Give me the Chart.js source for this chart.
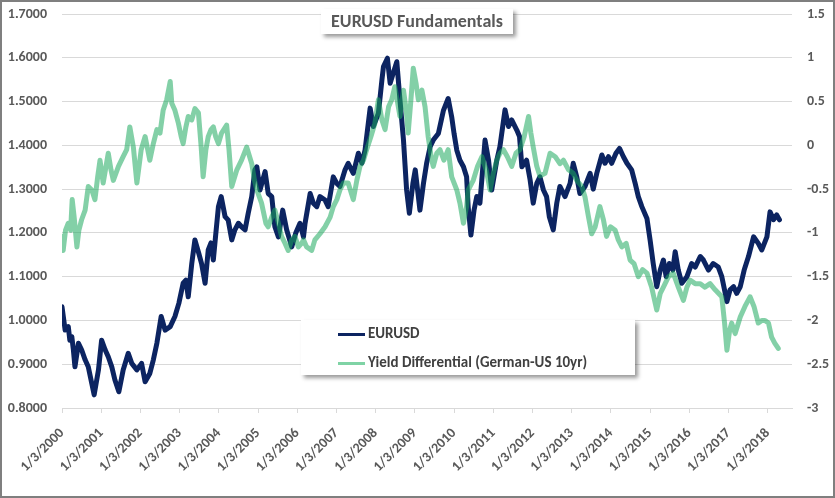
<!DOCTYPE html>
<html>
<head>
<meta charset="utf-8">
<script src="https://cdn.jsdelivr.net/npm/chart.js@4.4.1/dist/chart.umd.min.js"></script>
<style>
  body { margin: 0; background: #fff; }
  #wrap { position: relative; width: 835px; height: 498px; }
  #frame {
    position: absolute; left: 0; top: 0; width: 835px; height: 498px;
    box-sizing: border-box; border: 2px solid #7f7f7f; pointer-events: none;
  }
  .box {
    position: absolute; background: #fff;
    box-shadow: 3px 3px 4px rgba(0, 0, 0, 0.4);
    font-family: Carlito, Lato, "Open Sans", sans-serif; font-weight: bold;
  }
  #title {
    left: 321px; top: 9px; width: 192px; height: 25px;
    font-size: 18px; line-height: 25px; text-align: center; color: #595959;
  }
  #legend { left: 301px; top: 320px; width: 334px; height: 55px; font-size: 15px; color: #404040; }
  .item { position: absolute; left: 37px; height: 18px; line-height: 18px; white-space: nowrap; }
  .swatch { display: inline-block; width: 27px; height: 3px; vertical-align: middle; margin-right: 3px; }
</style>
</head>
<body>
<div id="wrap">
  <canvas id="grafico" width="835" height="498"></canvas>
  <div id="title" class="box">EURUSD Fundamentals</div>
  <div id="legend" class="box">
    <div class="item" style="top:4px"><span class="swatch" style="background:#0c2461"></span>EURUSD</div>
    <div class="item" style="top:33px"><span class="swatch" style="background:#7fd3a5"></span>Yield Differential (German-US 10yr)</div>
  </div>
  <div id="frame"></div>
</div>
<script>
// EURUSD, left axis (dates as decimal years)
const eurDates = [
  2000.00, 2000.08, 2000.16, 2000.20, 2000.25, 2000.29, 2000.33, 2000.42, 2000.50, 2000.59,
  2000.67, 2000.76, 2000.82, 2000.93, 2001.01, 2001.10, 2001.18, 2001.27, 2001.35, 2001.45,
  2001.56, 2001.69, 2001.78, 2001.91, 2002.03, 2002.12, 2002.24, 2002.33, 2002.42, 2002.53,
  2002.63, 2002.76, 2002.88, 2002.98, 2003.09, 2003.16, 2003.22, 2003.31, 2003.39, 2003.49,
  2003.56, 2003.65, 2003.73, 2003.80, 2003.86, 2003.92, 2003.99, 2004.06, 2004.16, 2004.24,
  2004.33, 2004.41, 2004.50, 2004.58, 2004.67, 2004.75, 2004.84, 2004.92, 2004.97, 2005.05,
  2005.18, 2005.26, 2005.35, 2005.43, 2005.52, 2005.63, 2005.73, 2005.86, 2005.96, 2006.07,
  2006.16, 2006.20, 2006.33, 2006.41, 2006.50, 2006.58, 2006.71, 2006.79, 2006.92, 2007.01,
  2007.09, 2007.22, 2007.30, 2007.43, 2007.56, 2007.65, 2007.73, 2007.86, 2007.94, 2008.07,
  2008.16, 2008.20, 2008.30, 2008.37, 2008.45, 2008.54, 2008.62, 2008.71, 2008.79, 2008.86,
  2008.95, 2009.01, 2009.07, 2009.13, 2009.22, 2009.30, 2009.39, 2009.47, 2009.60, 2009.73,
  2009.85, 2009.94, 2010.00, 2010.07, 2010.15, 2010.24, 2010.32, 2010.36, 2010.43, 2010.51,
  2010.58, 2010.66, 2010.79, 2010.88, 2010.96, 2011.09, 2011.17, 2011.30, 2011.39, 2011.47,
  2011.60, 2011.67, 2011.73, 2011.85, 2011.94, 2012.02, 2012.11, 2012.19, 2012.28, 2012.36,
  2012.43, 2012.53, 2012.62, 2012.70, 2012.83, 2012.96, 2013.04, 2013.13, 2013.21, 2013.34,
  2013.47, 2013.55, 2013.64, 2013.77, 2013.85, 2013.94, 2014.02, 2014.13, 2014.22, 2014.32,
  2014.41, 2014.53, 2014.62, 2014.70, 2014.79, 2014.92, 2015.00, 2015.08, 2015.17, 2015.26,
  2015.34, 2015.41, 2015.49, 2015.58, 2015.64, 2015.72, 2015.81, 2015.94, 2016.06, 2016.15,
  2016.28, 2016.36, 2016.49, 2016.61, 2016.74, 2016.83, 2016.96, 2017.04, 2017.13, 2017.21,
  2017.30, 2017.40, 2017.51, 2017.64, 2017.76, 2017.85, 2017.98, 2018.06, 2018.15, 2018.23,
  2018.30
];
const eurValues = [
  1.031, 0.978, 0.986, 0.955, 0.963, 0.933, 0.894, 0.948, 0.933, 0.910,
  0.894, 0.856, 0.830, 0.887, 0.955, 0.933, 0.917, 0.894, 0.864, 0.837,
  0.887, 0.925, 0.902, 0.887, 0.902, 0.860, 0.879, 0.910, 0.948, 1.009,
  0.978, 0.986, 1.009, 1.039, 1.085, 1.092, 1.054, 1.130, 1.184, 1.153,
  1.130, 1.085, 1.161, 1.177, 1.138, 1.195, 1.260, 1.283, 1.237, 1.229,
  1.184, 1.207, 1.222, 1.214, 1.207, 1.245, 1.283, 1.344, 1.351, 1.298,
  1.340, 1.290, 1.283, 1.214, 1.191, 1.252, 1.207, 1.168, 1.199, 1.222,
  1.191, 1.222, 1.290, 1.268, 1.260, 1.283, 1.275, 1.260, 1.328, 1.313,
  1.306, 1.344, 1.359, 1.336, 1.382, 1.359, 1.389, 1.485, 1.443, 1.473,
  1.549, 1.580, 1.599, 1.542, 1.565, 1.591, 1.504, 1.412, 1.298, 1.245,
  1.313, 1.344, 1.298, 1.252, 1.313, 1.359, 1.397, 1.412, 1.427, 1.480,
  1.507, 1.465, 1.427, 1.389, 1.366, 1.351, 1.328, 1.260, 1.195, 1.252,
  1.283, 1.268, 1.412, 1.366, 1.298, 1.366, 1.397, 1.481, 1.443, 1.458,
  1.435, 1.420, 1.351, 1.366, 1.321, 1.268, 1.313, 1.328, 1.298, 1.283,
  1.237, 1.207, 1.268, 1.306, 1.283, 1.313, 1.359, 1.328, 1.290, 1.306,
  1.336, 1.300, 1.336, 1.378, 1.359, 1.374, 1.359, 1.382, 1.393, 1.374,
  1.359, 1.344, 1.313, 1.283, 1.260, 1.233, 1.184, 1.130, 1.077, 1.115,
  1.138, 1.100, 1.130, 1.115, 1.157, 1.115, 1.085, 1.100, 1.130, 1.122,
  1.146, 1.138, 1.115, 1.130, 1.122, 1.100, 1.043, 1.070, 1.077, 1.062,
  1.077, 1.115, 1.146, 1.191, 1.176, 1.161, 1.191, 1.248, 1.230, 1.241,
  1.230
];

// German-US 10yr yield differential, right axis
const ydDates = [
  2000.00, 2000.03, 2000.09, 2000.16, 2000.22, 2000.26, 2000.31, 2000.38, 2000.43, 2000.50,
  2000.59, 2000.67, 2000.76, 2000.84, 2000.91, 2000.97, 2001.05, 2001.18, 2001.25, 2001.31,
  2001.44, 2001.56, 2001.65, 2001.73, 2001.82, 2001.91, 2002.02, 2002.12, 2002.24, 2002.33,
  2002.42, 2002.50, 2002.58, 2002.67, 2002.76, 2002.80, 2002.88, 2002.97, 2003.04, 2003.09,
  2003.16, 2003.22, 2003.31, 2003.39, 2003.48, 2003.55, 2003.60, 2003.67, 2003.73, 2003.80,
  2003.86, 2003.92, 2003.99, 2004.07, 2004.20, 2004.26, 2004.33, 2004.46, 2004.58, 2004.71,
  2004.84, 2004.91, 2004.97, 2005.09, 2005.20, 2005.26, 2005.35, 2005.43, 2005.52, 2005.60,
  2005.69, 2005.77, 2005.86, 2005.94, 2006.03, 2006.11, 2006.16, 2006.24, 2006.37, 2006.45,
  2006.58, 2006.71, 2006.84, 2006.92, 2007.01, 2007.09, 2007.18, 2007.30, 2007.43, 2007.52,
  2007.60, 2007.69, 2007.77, 2007.88, 2007.98, 2008.07, 2008.16, 2008.24, 2008.33, 2008.41,
  2008.49, 2008.62, 2008.71, 2008.78, 2008.83, 2008.90, 2008.96, 2009.03, 2009.09, 2009.18,
  2009.26, 2009.34, 2009.43, 2009.47, 2009.56, 2009.64, 2009.74, 2009.85, 2009.94, 2010.07,
  2010.15, 2010.24, 2010.32, 2010.36, 2010.49, 2010.60, 2010.71, 2010.82, 2010.92, 2011.00,
  2011.09, 2011.17, 2011.26, 2011.36, 2011.47, 2011.58, 2011.68, 2011.79, 2011.90, 2011.96,
  2012.02, 2012.11, 2012.19, 2012.32, 2012.45, 2012.58, 2012.70, 2012.79, 2012.92, 2013.04,
  2013.13, 2013.26, 2013.34, 2013.43, 2013.51, 2013.60, 2013.72, 2013.81, 2013.89, 2013.99,
  2014.11, 2014.19, 2014.28, 2014.39, 2014.49, 2014.59, 2014.70, 2014.81, 2014.92, 2015.04,
  2015.17, 2015.26, 2015.34, 2015.47, 2015.59, 2015.72, 2015.85, 2015.94, 2016.02, 2016.15,
  2016.28, 2016.40, 2016.53, 2016.66, 2016.83, 2016.90, 2016.96, 2017.03, 2017.08, 2017.17,
  2017.30, 2017.42, 2017.55, 2017.65, 2017.76, 2017.85, 2017.93, 2018.02, 2018.10, 2018.18,
  2018.27
];
const ydValues = [
  -1.04, -1.20, -0.97, -0.89, -0.97, -0.62, -0.82, -1.16, -0.97, -0.85,
  -0.74, -0.47, -0.51, -0.62, -0.36, -0.17, -0.43, -0.09, -0.28, -0.40,
  -0.24, -0.13, -0.05, 0.21, -0.02, -0.43, -0.05, 0.10, -0.17, 0.02,
  0.18, 0.14, 0.40, 0.52, 0.73, 0.48, 0.40, 0.25, 0.10, 0.02,
  0.21, 0.33, 0.29, 0.42, 0.37, -0.02, -0.36, -0.05, 0.10, 0.18,
  0.21, 0.10, 0.02, 0.14, 0.23, -0.05, -0.47, -0.28, -0.17, -0.02,
  -0.21, -0.40, -0.51, -0.66, -0.89, -0.93, -0.82, -0.74, -0.89, -1.04,
  -1.12, -1.20, -1.08, -1.04, -1.16, -1.12, -1.08, -1.16, -1.20, -1.08,
  -1.01, -0.93, -0.82, -0.70, -0.62, -0.51, -0.43, -0.43, -0.62, -0.40,
  -0.24, -0.17, -0.05, 0.10, 0.25, 0.52, 0.29, 0.18, 0.44, 0.52,
  0.67, 0.33, 0.63, 0.40, 0.14, 0.52, 0.88, 0.71, 0.52, 0.63,
  0.44, 0.10, -0.17, -0.24, -0.09, -0.05, -0.17, -0.05, -0.36, -0.51,
  -0.66, -0.89, -0.70, -0.51, -0.40, -0.24, -0.13, -0.28, -0.51, -0.32,
  -0.17, -0.09, -0.05, -0.13, -0.24, -0.09, -0.05, 0.10, 0.33, 0.14,
  -0.02, -0.24, -0.35, -0.32, -0.09, -0.13, -0.21, -0.17, -0.28, -0.32,
  -0.40, -0.47, -0.59, -0.82, -1.01, -0.93, -0.70, -0.85, -1.04, -0.93,
  -0.97, -1.08, -1.16, -1.12, -1.31, -1.35, -1.50, -1.42, -1.46, -1.62,
  -1.88, -1.69, -1.62, -1.50, -1.46, -1.62, -1.77, -1.62, -1.54, -1.58,
  -1.58, -1.62, -1.58, -1.65, -1.73, -2.03, -2.34, -2.11, -2.03, -2.15,
  -1.96, -1.84, -1.73, -1.84, -2.03, -2.00, -2.00, -2.03, -2.19, -2.26,
  -2.32
];

const tickYears = [2000, 2001, 2002, 2003, 2004, 2005, 2006, 2007, 2008, 2009,
  2010, 2011, 2012, 2013, 2014, 2015, 2016, 2017, 2018];
const xTickLabels = tickYears.map((a) => "1/3/" + a);

const fonte = { family: "Carlito, Lato, 'Open Sans', sans-serif", size: 14, weight: "bold" };
const cinza = "#595959";
const grade = "#d9d9d9";
const invisivel = "rgba(0, 0, 0, 0)";

const ctx = document.getElementById("grafico").getContext("2d");

new Chart(ctx, {
  type: "line",
  data: {
    datasets: [
      {
        label: "EURUSD",
        data: eurDates.map((d, i) => ({ x: d, y: eurValues[i] })),
        borderColor: "#0c2461",
        borderWidth: 5,
        yAxisID: "y",
        order: 1,
      },
      {
        label: "Yield Differential (German-US 10yr)",
        data: ydDates.map((d, i) => ({ x: d, y: ydValues[i] })),
        borderColor: "rgba(30, 170, 95, 0.55)",
        borderWidth: 5,
        yAxisID: "y2",
        order: 0,
      },
    ],
  },
  options: {
    responsive: false,
    animation: false,
    devicePixelRatio: 1,
    layout: { padding: { top: 14, left: 0, right: 0, bottom: 0 } },
    elements: { point: { radius: 0 }, line: { tension: 0, borderJoinStyle: "round", borderCapStyle: "round" } },
    plugins: { legend: { display: false }, tooltip: { enabled: false } },
    scales: {
      x: {
        type: "linear",
        min: 2000,
        max: 2018.62,
        afterBuildTicks: (s) => { s.ticks = tickYears.map((v) => ({ value: v })); },
        afterFit: (s) => { s.height = 90; },
        ticks: {
          autoSkip: false,
          maxRotation: 45,
          minRotation: 45,
          padding: 12,
          color: cinza,
          font: fonte,
          callback: (v) => xTickLabels[tickYears.indexOf(v)] || "",
        },
        grid: { drawOnChartArea: false, color: grade, tickLength: 5 },
        border: { color: grade },
      },
      y: {
        position: "left",
        min: 0.8,
        max: 1.7,
        afterFit: (s) => { s.width = 62; },
        ticks: { stepSize: 0.1, padding: 0, color: cinza, font: fonte, callback: (v) => v.toFixed(4) },
        grid: { color: grade, tickColor: invisivel, tickLength: 15 },
        border: { display: false },
      },
      y2: {
        position: "right",
        min: -3,
        max: 1.5,
        afterFit: (s) => { s.width = 43; },
        ticks: { stepSize: 0.5, padding: 0, color: cinza, font: fonte, callback: (v) => String(Number(v.toFixed(1))) },
        grid: { drawOnChartArea: false, tickColor: invisivel, tickLength: 15 },
        border: { display: false },
      },
    },
  },
});
</script>
</body>
</html>
